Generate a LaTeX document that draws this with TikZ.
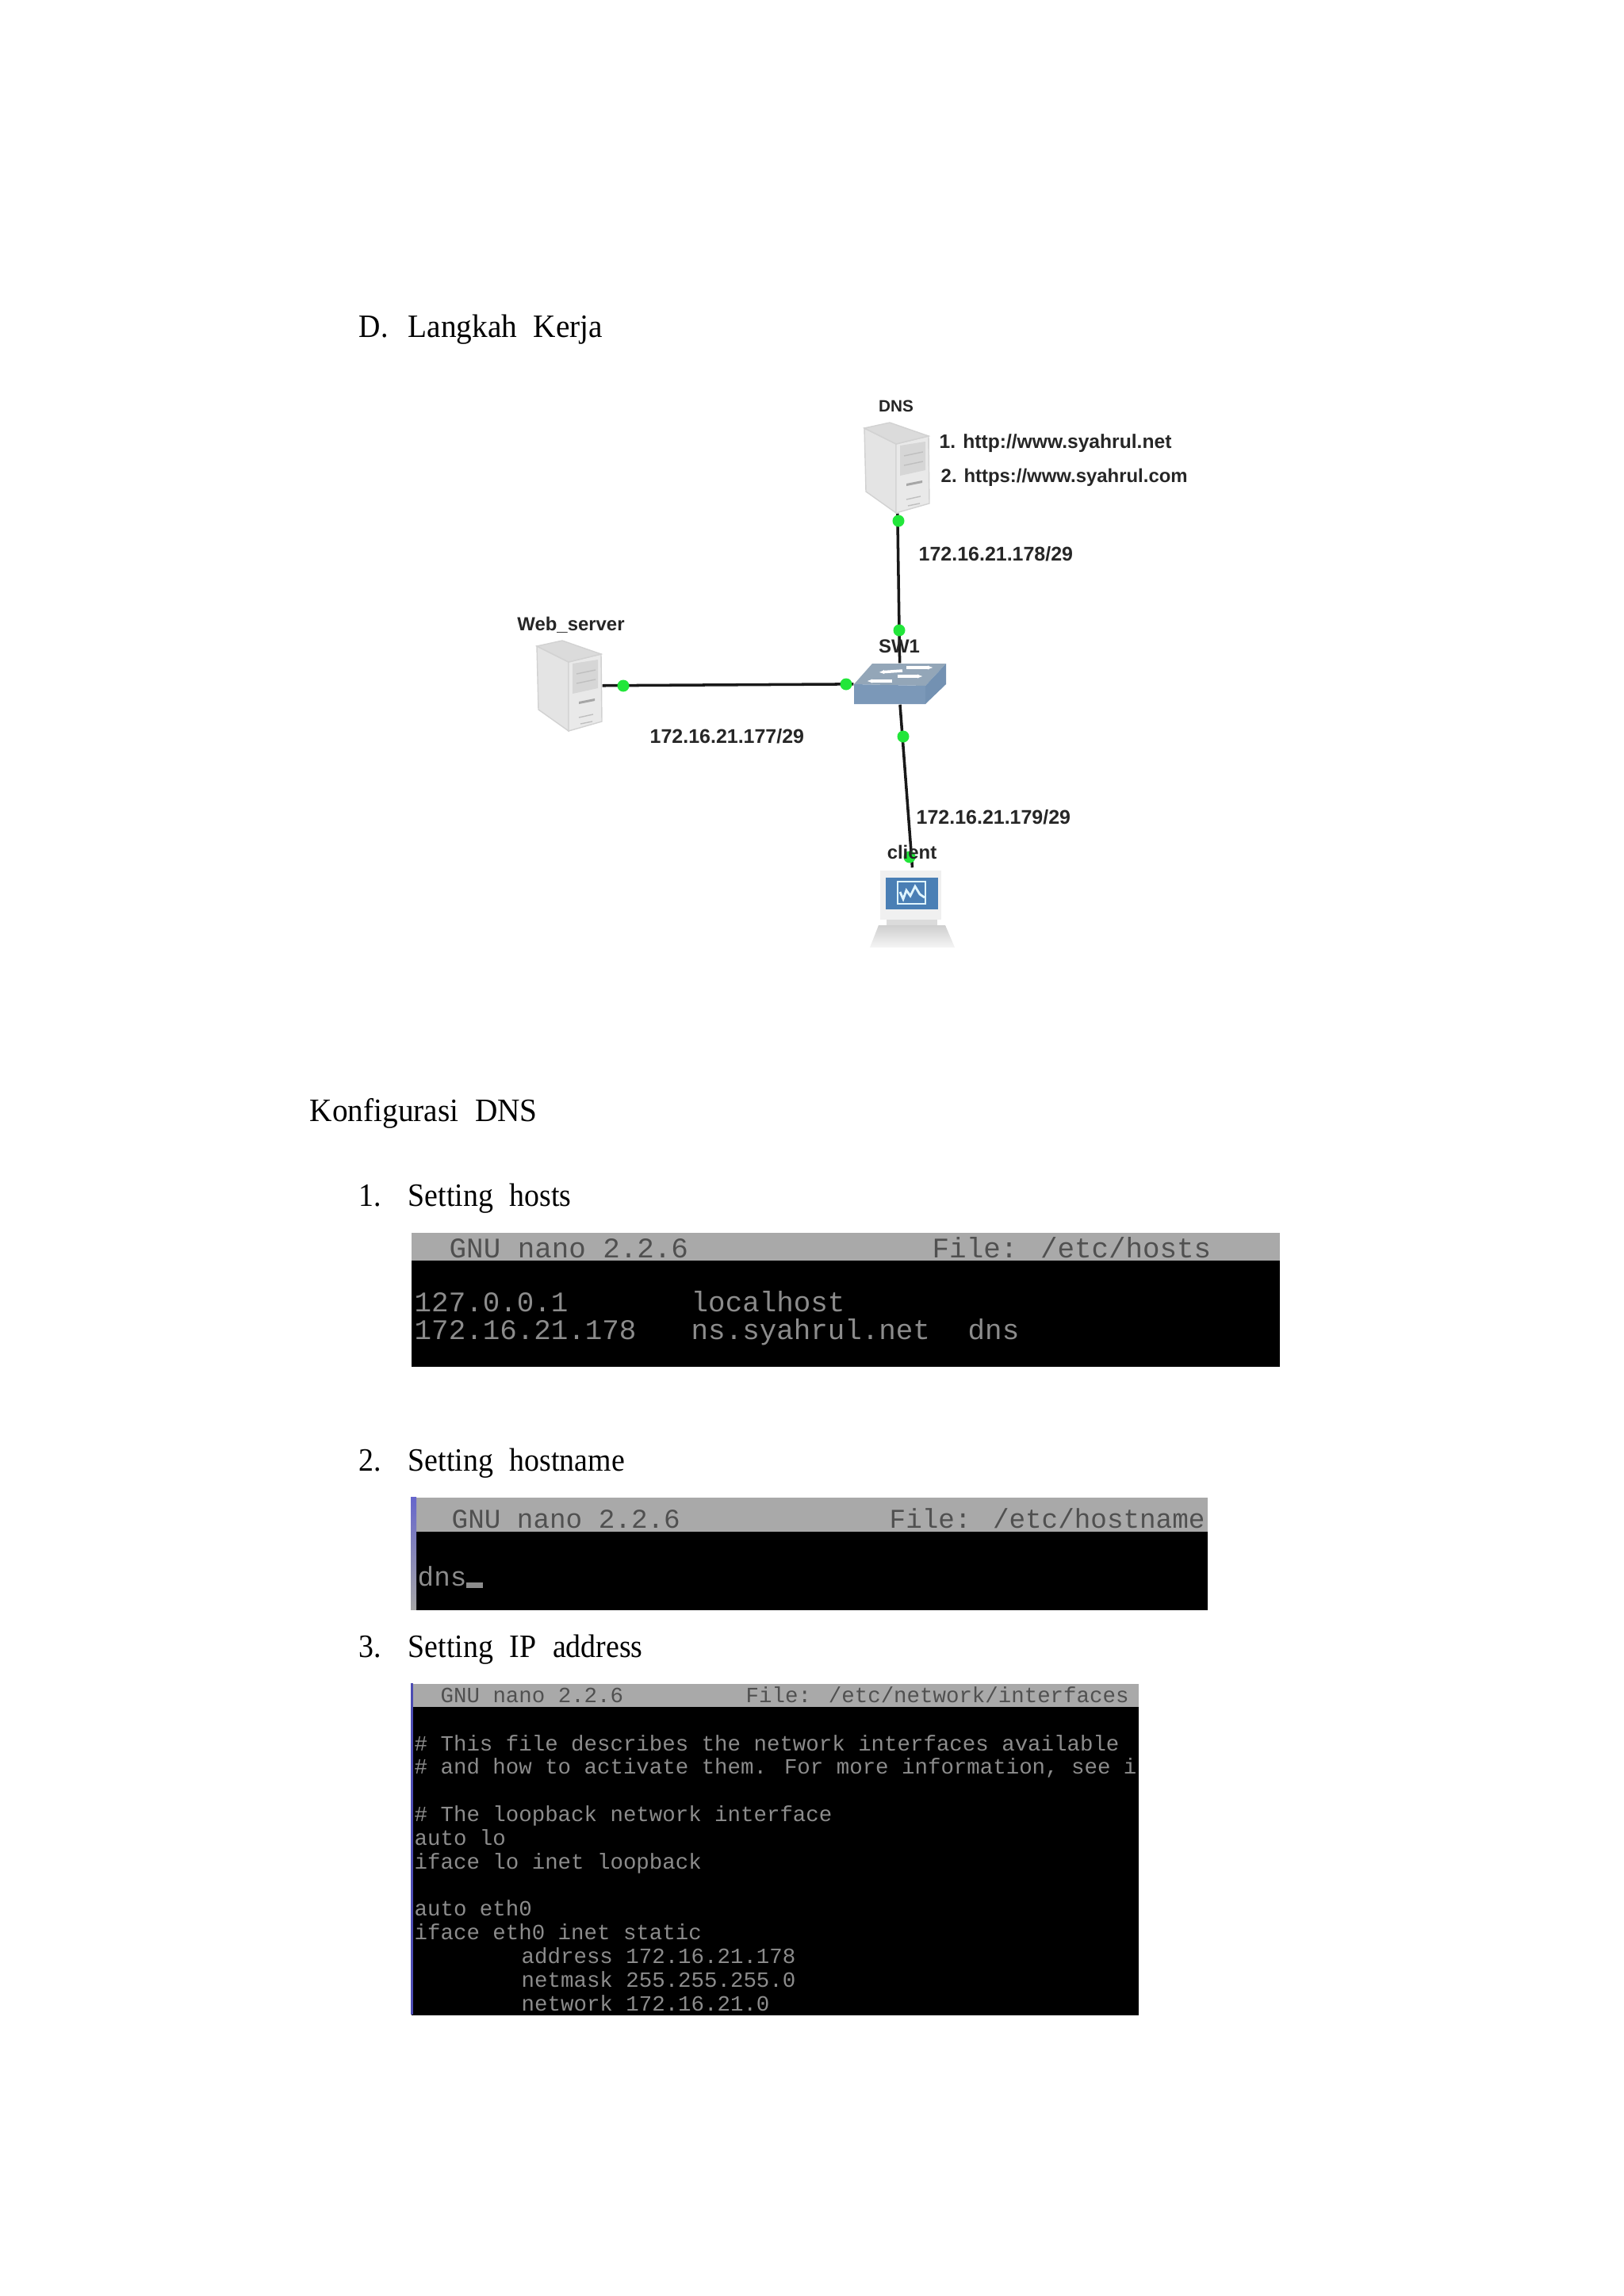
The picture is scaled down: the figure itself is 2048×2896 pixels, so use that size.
\documentclass[tikz,border=0pt]{standalone}
\usepackage{fontspec}
\usetikzlibrary{arrows.meta}
\setmainfont{Liberation Serif}
\newfontfamily\pagefont[FakeStretch=0.92]{Liberation Serif}
\newfontfamily\widepagefont[FakeStretch=0.955]{Liberation Serif}
\newfontfamily\labelfont{Liberation Sans}
\newfontfamily\termfont{Liberation Mono}
\definecolor{termgray}{HTML}{8C8C8C}
\definecolor{headgray}{HTML}{A9A9A9}
\definecolor{headtext}{HTML}{505050}
\definecolor{swtop}{HTML}{93A6B8}
\definecolor{swfront}{HTML}{7B98B8}
\definecolor{swside}{HTML}{7391B2}
\definecolor{portgreen}{HTML}{22E63A}
\definecolor{screenblue}{HTML}{4A7FB5}

\begin{document}
\begin{tikzpicture}[
  x=0.01cm, y=-0.01cm,
  pagetext/.style={anchor=base west, inner sep=0, font={\pagefont\fontsize{11.7}{14}\selectfont\spaceskip=5.9pt\relax}},
  lab/.style={inner sep=0, font={\labelfont\bfseries\fontsize{6.8}{9}\selectfont}, text=black!85},
  iplab/.style={anchor=west, inner sep=0, font={\labelfont\bfseries\fontsize{7.1}{9}\selectfont}, text=black!85},
  icon/.style={inner sep=0, minimum width=#1},
  link/.style={draw=black!90, line width=1pt},
  port/.style={circle, fill=portgreen, inner sep=0, minimum size=0.15cm},
  swarrow/.style={white, line width=1pt, -{Latex[length=0.07cm]}},
  termbox/.style={anchor=north west, fill=black, inner sep=0},
  termhead/.style={anchor=north west, fill=headgray, inner sep=0},
  termtext/.style={anchor=base west, inner sep=0, text=termgray, align=left},
  headlab/.style={anchor=base west, inner sep=0, text=headtext},
  servericon/.pic={
    \filldraw[draw=gray!35, fill=gray!21] (0,7) -- (40,27) -- (40,114) -- (2,87) -- cycle;
    \filldraw[draw=gray!35, fill=gray!17] (40,27) -- (81,17) -- (82,102) -- (40,114) -- cycle;
    \filldraw[draw=gray!35, fill=gray!28] (0,7) -- (32,0) -- (81,17) -- (40,27) -- cycle;
    \fill[gray!32] (45,29) -- (77,24) -- (77,60) -- (45,67) -- cycle;
    \fill[gray!70] (53,77) -- (73,73) -- (73,76) -- (53,80) -- cycle;
    \draw[gray!50] (50,42) -- (74,37) (50,54) -- (74,49) (53,97) -- (71,93) (55,105) -- (70,102);
  }
]
\useasboundingbox (0,0) rectangle (2048,2896);
\fill[white] (0,0) rectangle (2048,2896);

\node[pagetext] (hd) at (452,425) {D.};
\node[pagetext, font={\widepagefont\fontsize{11.7}{14}\selectfont\spaceskip=5.9pt\relax}] (hdtxt) at (514,425) {Langkah Kerja};
\node[pagetext, font={\widepagefont\fontsize{11.7}{14}\selectfont\spaceskip=5.9pt\relax}] (konf) at (390,1414) {Konfigurasi DNS};
\node[pagetext] (one) at (452,1521) {1.};
\node[pagetext] (onetxt) at (514,1521) {Setting hosts};
\node[pagetext] (two) at (452,1855) {2.};
\node[pagetext] (twotxt) at (514,1855) {Setting hostname};
\node[pagetext] (three) at (452,2090) {3.};
\node[pagetext] (threetxt) at (514,2090) {Setting IP address};

\node[icon=0.82cm, minimum height=1.14cm] (dns) at (1131,590) {};
\node[icon=0.82cm, minimum height=1.14cm] (web) at (718,865) {};
\node[icon=1.16cm, minimum height=0.51cm] (sw) at (1135,862.5) {};
\node[icon=1.07cm, minimum height=1.00cm] (client) at (1150.5,1145) {};

\draw[link] (dns) -- (sw);
\draw[link] (web) -- (sw);
\draw[link] (sw.south) -- (client.north);

\pic at (1090,533) {servericon};
\pic at (677,808) {servericon};

\fill[swtop] (1077,863) -- (1100,837) -- (1193,837) -- (1167,865) -- cycle;
\fill[swfront] (1077,863) -- (1167,865) -- (1167,888) -- (1077,888) -- cycle;
\fill[swside] (1167,865) -- (1193,837) -- (1193,863) -- (1167,888) -- cycle;
\draw[swarrow] (1138,846) -- (1108,848);
\draw[swarrow] (1143,842) -- (1177,842);
\draw[swarrow] (1125,859) -- (1093,859);
\draw[swarrow] (1132,853) -- (1164,853);

\fill[gray!12] (1110,1098) rectangle (1187,1160);
\fill[gray!28] (1118,1160) rectangle (1182,1167);
\fill[screenblue] (1117,1107) rectangle (1183,1147);
\draw[cyan!12, line width=0.8pt] (1132,1112) rectangle (1167,1140);
\draw[cyan!12, line width=0.8pt] (1135,1125) -- (1139,1134) -- (1143,1123) -- (1148,1130) -- (1154,1118) -- (1160,1128) -- (1166,1132);
\shade[top color=gray!38, bottom color=gray!8] (1108,1167) -- (1192,1167) -- (1204,1195) -- (1097,1195) -- cycle;

\node[port] (pdns) at (1133,657) {};
\node[port] (psw) at (1134,795) {};
\node[port] (pweb) at (786,865) {};
\node[port] (pswweb) at (1067,863) {};
\node[port] (pswcl) at (1139,929) {};
\node[port] (pcl) at (1147,1081) {};

\node[lab, font={\labelfont\bfseries\fontsize{5.9}{9}\selectfont}] (ldns) at (1130,512) {DNS};
\node[lab] (lweb) at (720,788) {Web\_server};
\node[lab] (lsw) at (1134,815) {SW1};
\node[lab] (lcl) at (1150,1075) {client};
\node[iplab, font={\labelfont\bfseries\fontsize{7.0}{9}\selectfont}] (url1) at (1184,559) {1. http://www.syahrul.net};
\node[iplab, font={\labelfont\bfseries\fontsize{6.8}{9}\selectfont}] (url2) at (1186,602) {2. https://www.syahrul.com};
\node[iplab] (ip1) at (1158,699) {172.16.21.178/29};
\node[iplab] (ip2) at (819,929) {172.16.21.177/29};
\node[iplab] (ip3) at (1155,1031) {172.16.21.179/29};

\node[termbox, minimum width=10.95cm, minimum height=1.69cm] (hosts) at (518,1554) {};
\node[termhead, minimum width=10.95cm, minimum height=0.35cm] (hostshd) at (518,1554) {};
\node[headlab, font={\termfont\fontsize{10.2}{12}\selectfont}] (h1) at (566,1586) {GNU nano 2.2.6};
\node[headlab, font={\termfont\fontsize{10.2}{12}\selectfont}] (h2) at (1175,1586) {File: /etc/hosts};
\node[termtext, font={\termfont\fontsize{10.2}{9.8}\selectfont}] (h3) at (522,1689) {127.0.0.1\\172.16.21.178};
\node[termtext, font={\termfont\fontsize{10.2}{9.8}\selectfont}] (h4) at (871,1689) {localhost\\ns.syahrul.net};
\node[termtext, font={\termfont\fontsize{10.2}{12}\selectfont}] (h5) at (1220,1689) {dns};

\node[termbox, minimum width=10.04cm, minimum height=1.42cm] (hname) at (518,1888) {};
\node[termhead, minimum width=10.04cm, minimum height=0.43cm] (hnamehd) at (518,1888) {};
\shade[top color=blue!50!gray!80, bottom color=gray!70] (518,1888) rectangle (525,2030);
\node[headlab, font={\termfont\fontsize{9.75}{12}\selectfont}] (n1) at (569,1927) {GNU nano 2.2.6};
\node[headlab, font={\termfont\fontsize{9.75}{12}\selectfont}] (n2) at (1121,1927) {File: /etc/hostname};
\node[termtext, font={\termfont\fontsize{9.75}{12}\selectfont}] (n3) at (526,2000) {dns};
\fill[termgray] (588,1996) rectangle (609,2003);

\node[termbox, minimum width=9.17cm, minimum height=4.18cm] (ifaces) at (518,2123) {};
\node[termhead, minimum width=9.17cm, minimum height=0.29cm] (ifaceshd) at (518,2123) {};
\fill[blue!40!gray] (518,2123) rectangle (521,2541);
\node[headlab, font={\termfont\fontsize{7.8}{9}\selectfont}] (i1) at (555,2147) {GNU nano 2.2.6};
\node[headlab, font={\termfont\fontsize{7.8}{9}\selectfont}] (i2) at (940,2147) {File: /etc/network/interfaces};
\node[termtext, font={\termfont\fontsize{7.8}{8.48}\selectfont}] (i3) at (522,2536) {\# This file describes the network interfaces available\\
\# and how to activate them. For more information, see i\\
~\\
\# The loopback network interface\\
auto lo\\
iface lo inet loopback\\
~\\
auto eth0\\
iface eth0 inet static\\
\hspace*{38.4pt}address 172.16.21.178\\
\hspace*{38.4pt}netmask 255.255.255.0\\
\hspace*{38.4pt}network 172.16.21.0};
\end{tikzpicture}
\end{document}
